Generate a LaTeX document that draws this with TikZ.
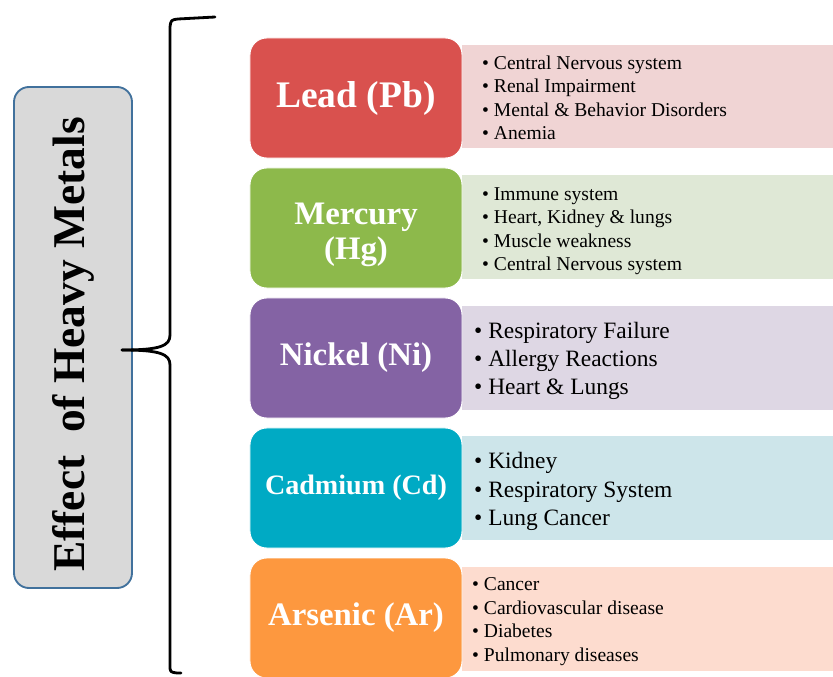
\documentclass[tikz,border=0pt]{standalone}
\usepackage{fontspec}
\setmainfont{LiberationSerif}[Extension=.ttf, UprightFont=*-Regular, BoldFont=*-Bold]
\usepackage{tikz}
\definecolor{leadred}{HTML}{D9514E}
\definecolor{leadlight}{HTML}{F0D4D4}
\definecolor{mercgreen}{HTML}{8DB94B}
\definecolor{merclight}{HTML}{DFE8D6}
\definecolor{nickpurple}{HTML}{8463A4}
\definecolor{nicklight}{HTML}{DED7E4}
\definecolor{cadteal}{HTML}{00AAC4}
\definecolor{cadlight}{HTML}{CDE5EA}
\definecolor{arsorange}{HTML}{FD983F}
\definecolor{arslight}{HTML}{FDDCCF}
\definecolor{titlefill}{HTML}{D9D9D9}
\definecolor{titleline}{HTML}{41719C}

\begin{document}
\begin{tikzpicture}[x=0.03cm, y=-0.03cm,
  metal/.style={rounded corners=0.5cm, draw=white, line width=0.8pt, text=white,
    font=\bfseries, minimum width=6.36cm, minimum height=3.6cm, align=center, inner sep=0pt},
  effects/.style={minimum width=11.13cm, minimum height=3.1cm, inner sep=0pt},
  items/.style={anchor=west, align=left, inner sep=0pt},
  brace/.style={line width=2.4pt, line cap=round, line join=round}]
\def\bl{\makebox[0.6em][l]{\textbullet}}
\useasboundingbox (0,0) rectangle (833,677);
% title box
\node[rotate=90, rounded corners=0.45cm, fill=titlefill, draw=titleline, line width=1.6pt,
  minimum width=15.03cm, minimum height=3.54cm, inner sep=0pt,
  font=\fontsize{38.8}{40}\selectfont\bfseries] (title) at (73,337.5)
  {Effect\ \ of Heavy Metals\hspace*{0.42cm}};
% brace
\draw[brace] (215,17) -- (178,19) .. controls (171,20) .. (170,27) -- (170,335)
  .. controls (170,346) and (160,350) .. (122,350);
\draw[brace] (122,350) .. controls (160,350) and (170,354) .. (170,365) -- (170,665)
  .. controls (170,672) .. (177,673) -- (181,673);
% light effect boxes
\node[effects, fill=leadlight] (leadfx) at (647.5,96.5) {};
\node[effects, fill=merclight] (mercfx) at (647.5,227) {};
\node[effects, fill=nicklight] (nickfx) at (647.5,358) {};
\node[effects, fill=cadlight]  (cadfx)  at (647.5,488) {};
\node[effects, fill=arslight]  (arsfx)  at (647.5,619) {};
% metal boxes
\node[metal, fill=leadred, font=\fontsize{32}{36}\selectfont\bfseries] (lead) at (356,98) {Lead (Pb)};
\node[metal, fill=mercgreen, font=\fontsize{28}{30}\selectfont\bfseries] (merc) at (356,228)
  {\rule{0pt}{1.1em}Mercury\\(Hg)};
\node[metal, fill=nickpurple, font=\fontsize{28}{30}\selectfont\bfseries] (nick) at (356,358) {Nickel (Ni)};
\node[metal, fill=cadteal, font=\fontsize{24}{28}\selectfont\bfseries] (cad) at (356,488) {Cadmium (Cd)};
\node[metal, fill=arsorange, font=\fontsize{28}{30}\selectfont\bfseries] (ars) at (356,618) {Arsenic (Ar)};
% effect lists
\node[items, font=\fontsize{16.7}{20}\selectfont] (leadtx) at (482,98)
  {\bl Central Nervous system\\\bl Renal Impairment\\\bl Mental \& Behavior Disorders\\\bl Anemia};
\node[items, font=\fontsize{16.7}{20}\selectfont] (merctx) at (482,231)
  {\bl Immune system\\\bl Heart, Kidney \& lungs\\\bl Muscle weakness\\\bl Central Nervous system};
\node[items, font=\fontsize{20}{24}\selectfont] (nicktx) at (474,361)
  {\bl Respiratory Failure\\\bl Allergy Reactions\\\bl Heart \& Lungs};
\node[items, font=\fontsize{20}{24}\selectfont] (cadtx) at (474,491.5)
  {\bl Kidney\\\bl Respiratory System\\\bl Lung Cancer};
\node[items, font=\fontsize{16.7}{20}\selectfont] (arstx) at (472,621.5)
  {\bl Cancer\\\bl Cardiovascular disease\\\bl Diabetes\\\bl Pulmonary diseases};
\end{tikzpicture}
\end{document}
